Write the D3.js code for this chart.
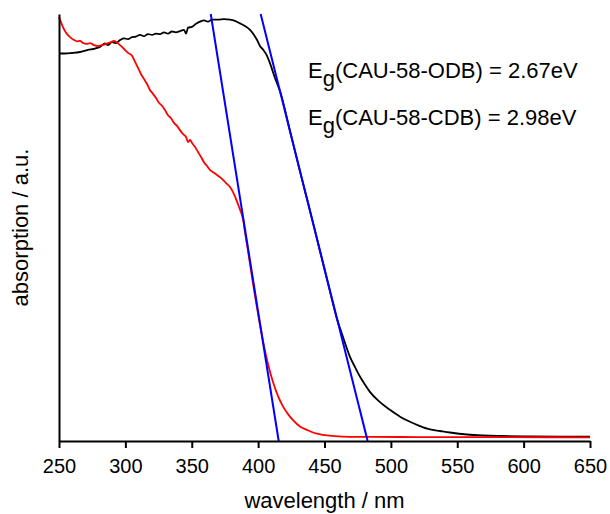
<!DOCTYPE html>
<html>
<head>
<meta charset="utf-8">
<script src="https://cdn.jsdelivr.net/npm/d3@7"></script>
<style>
  html, body { margin: 0; padding: 0; background: #fff; }
  svg { display: block; }
  text { font-family: "Liberation Sans", Arial, sans-serif; fill: #000; }
</style>
</head>
<body>
<svg id="chart" width="610" height="514"></svg>
<script>
// wavelength (nm), absorption (a.u.)
const odbWavelength = [250.0,254.5,259.8,265.8,271.8,277.1,280.9,284.7,286.9,289.9,292.9,296.0,299.0,302.0,305.0,308.0,311.0,314.0,317.0,320.1,323.1,326.1,329.1,332.1,335.1,338.1,341.1,344.2,345.7,347.2,350.2,353.2,356.2,359.2,362.2,365.3,369.8,374.3,378.8,382.6,386.3,390.1,393.9,396.9,399.2,401.4,403.9,406.7,408.9,412.7,416.9,424.0,431.5,439.1,446.6,454.1,459.4,462.4,465.4,469.2,473.0,476.7,480.5,484.2,491.8,499.3,506.9,514.4,521.9,529.5,537.0,544.5,557.3,569.4,582.2,604.8,627.4,650.0];
const odbAbsorption = [90.75,90.75,90.87,91.1,91.6,91.9,92.3,93.1,92.7,93.4,93.2,93.9,94.3,94.1,94.6,94.7,95.1,94.8,95.3,95.1,95.4,95.3,95.7,95.4,95.9,95.7,96.0,96.3,95.4,96.8,97.0,97.7,98.2,98.5,98.2,98.7,98.7,98.8,98.7,98.4,97.8,97.2,96.3,95.1,93.9,92.5,91.6,90.2,88.5,85.0,81.5,72.6,63.2,53.9,44.5,35.1,28.6,25.8,23.0,19.7,17.3,15.1,13.2,11.5,9.1,7.3,5.7,4.5,3.5,2.7,2.34,1.99,1.52,1.29,1.17,1.08,1.03,1.03];

const cdbWavelength = [250.0,251.5,253.0,255.3,258.3,261.3,263.6,265.8,268.1,271.1,273.4,276.4,279.4,282.4,285.4,286.9,289.2,291.4,293.7,296.0,299.0,302.0,305.0,307.3,309.5,311.8,314.0,316.3,318.5,320.8,323.1,325.3,327.6,329.8,332.1,334.4,336.6,338.9,341.1,343.4,345.7,347.2,348.7,350.2,352.4,354.7,357.0,359.2,361.5,363.7,366.8,369.8,372.8,375.8,378.8,381.1,383.3,385.6,387.5,389.0,390.1,392.4,394.6,396.9,399.2,401.4,403.7,405.9,408.2,411.2,415.0,418.7,422.5,426.3,431.5,436.8,443.6,450.4,457.9,469.2,506.9,544.5,582.2,650.0];
const cdbAbsorption = [99.3,98.1,96.9,95.6,94.6,93.9,93.6,93.7,93.2,93.0,93.2,92.7,92.5,92.7,93.0,93.2,93.4,93.7,93.3,92.7,91.8,90.9,90.2,88.8,87.4,85.9,84.8,83.6,82.2,81.3,80.3,79.2,78.5,77.5,76.3,75.6,74.5,73.8,72.8,71.9,71.2,70.0,70.5,69.8,68.9,67.7,66.5,65.3,64.4,63.5,62.8,62.1,61.4,60.4,59.5,58.3,56.7,54.8,53.2,51.3,48.9,44.5,40.0,35.4,31.1,27.2,23.4,20.1,17.1,13.8,10.5,8.1,6.3,4.9,3.4,2.6,1.76,1.36,1.12,0.98,0.94,0.89,0.89,0.87];

// Tangent (band-gap) lines, endpoints
const fitCdbWavelength = [364.3, 415.5];
const fitCdbAbsorption = [100, 0];
const fitOdbWavelength = [401.9, 482.5];
const fitOdbAbsorption = [100, 0];

const xTicks = [250,300,350,400,450,500,550,600,650];
const annotations = [
  {sub: "g", rest: "(CAU-58-ODB) = 2.67eV"},
  {sub: "g", rest: "(CAU-58-CDB) = 2.98eV"}
];

const svg = d3.select("#chart");
const mLeft = 59, mRight = 590, mTop = 14, mBottom = 441;

const x = d3.scaleLinear().domain([250, 650]).range([mLeft, mRight]);
const y = d3.scaleLinear().domain([0, 100]).range([mBottom, mTop]);

const zip = (a, b) => a.map((v, i) => [v, b[i]]);
const line = d3.line().x(d => x(d[0])).y(d => y(d[1]));
const smooth = d3.line().x(d => x(d[0])).y(d => y(d[1])).curve(d3.curveMonotoneX);

// curves
svg.append("path").datum(zip(odbWavelength, odbAbsorption))
  .attr("d", smooth).attr("fill", "none").attr("stroke", "#000").attr("stroke-width", 1.8)
  .attr("stroke-linejoin", "round");
svg.append("path").datum(zip(cdbWavelength, cdbAbsorption))
  .attr("d", smooth).attr("fill", "none").attr("stroke", "#ff0000").attr("stroke-width", 1.8)
  .attr("stroke-linejoin", "round");

// fit lines
[[fitCdbWavelength, fitCdbAbsorption], [fitOdbWavelength, fitOdbAbsorption]].forEach(([w, a]) => {
  svg.append("path").datum(zip(w, a)).attr("d", line)
    .attr("fill", "none").attr("stroke", "#0000ff").attr("stroke-width", 2);
});

// x axis
const xAxis = d3.axisBottom(x).tickValues(xTicks).tickSize(7).tickSizeOuter(0).tickPadding(11);
const gx = svg.append("g").attr("transform", `translate(0,${mBottom})`).call(xAxis);
gx.selectAll("path, line").attr("stroke", "#000").attr("stroke-width", 2);
gx.selectAll("text").attr("font-size", 20).attr("font-family", '"Liberation Sans", Arial, sans-serif').attr("fill", "#000");

// y axis (line only)
const gy = svg.append("g").attr("transform", `translate(${mLeft},0)`)
  .call(d3.axisLeft(y).tickValues([]).tickSizeOuter(0));
gy.selectAll("path").attr("stroke", "#000").attr("stroke-width", 2);

// axis titles
svg.append("text").attr("x", (mLeft + mRight) / 2).attr("y", 508)
  .attr("text-anchor", "middle").attr("font-size", 22).text("wavelength / nm");
svg.append("text").attr("transform", `translate(28,${(mTop + mBottom) / 2}) rotate(-90)`)
  .attr("text-anchor", "middle").attr("font-size", 22).text("absorption / a.u.");

// annotations
const annY = [78, 125];
annotations.forEach((a, i) => {
  const t = svg.append("text").attr("x", 308).attr("y", annY[i]).attr("font-size", 22);
  t.append("tspan").text("E");
  t.append("tspan").attr("dy", 8).text(a.sub);
  t.append("tspan").attr("dy", -8).text(a.rest);
});
</script>
</body>
</html>
